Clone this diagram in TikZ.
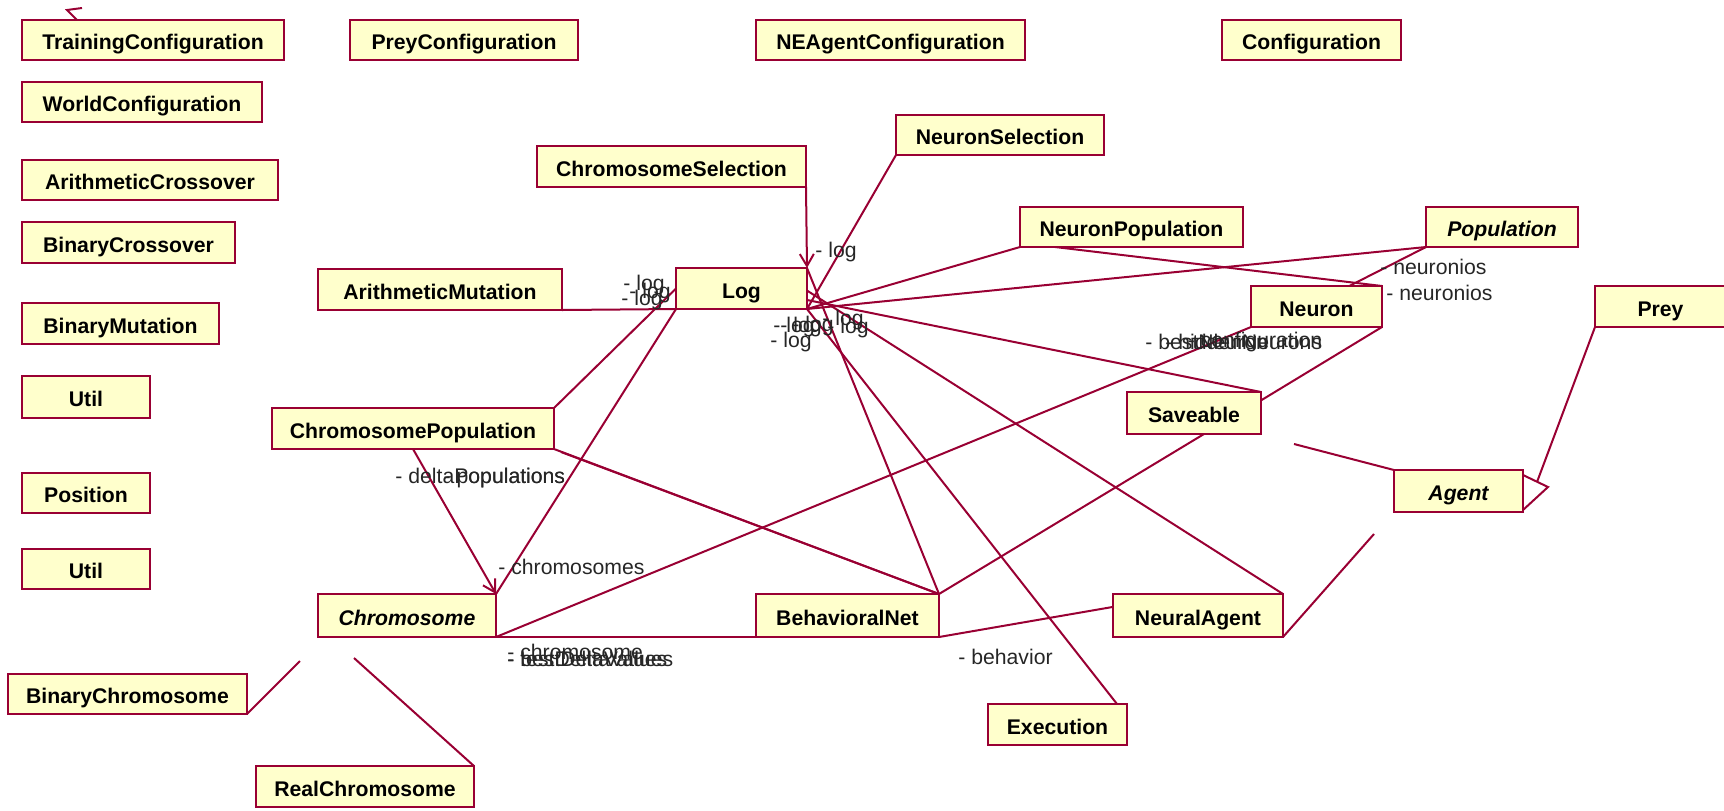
\documentclass[tikz,border=0pt]{standalone}
\usepackage{fontspec}
\setmainfont{Liberation Sans}
\usetikzlibrary{arrows.meta,calc}
\definecolor{umlred}{RGB}{153,0,51}
\definecolor{umlfill}{RGB}{255,255,204}
\newcommand\umlbox[7]{%
  \node[#1, minimum width={(#5-#3)*0.5pt}, minimum height={(#6-#4)*0.5pt}]
    (#2) at ({(#3+#5)/2},{(#4+#6)/2}) {#7};}
\begin{document}
\begin{tikzpicture}[x=0.5pt,y=-0.5pt,
  cls/.style={draw=umlred, fill=umlfill, line width=1pt, inner sep=0pt, outer sep=0pt,
    text height=9.5pt, text depth=0pt,
    font=\fontsize{10.6}{12}\selectfont\bfseries},
  abs/.style={cls, font=\fontsize{10.6}{12}\selectfont\bfseries\itshape},
  conn/.style={draw=umlred, line width=1pt},
  nav/.style={conn, -{Straight Barb[length=6pt,width=7pt]}},
  lbl/.style={anchor=west, inner sep=0pt, font=\fontsize{10.6}{12}\selectfont, text=black!85}]
\useasboundingbox (0,0) rectangle (1724,810);

% classes
\umlbox{cls}{tc}{22}{20}{284}{60}{TrainingConfiguration}
\umlbox{cls}{pc}{350}{20}{578}{60}{PreyConfiguration}
\umlbox{cls}{nc}{756}{20}{1025}{60}{NEAgentConfiguration}
\umlbox{cls}{cfg}{1222}{20}{1401}{60}{Configuration}
\umlbox{cls}{wc}{22}{82}{262}{122}{WorldConfiguration}
\umlbox{cls}{ac}{22}{160}{278}{200}{ArithmeticCrossover}
\umlbox{cls}{bcr}{22}{222}{235}{263}{BinaryCrossover}
\umlbox{cls}{bm}{22}{303}{219}{344}{BinaryMutation}
\umlbox{cls}{u1}{22}{376}{150}{418}{Util}
\umlbox{cls}{pos}{22}{473}{150}{513}{Position}
\umlbox{cls}{u2}{22}{549}{150}{589}{Util}
\umlbox{cls}{bch}{8}{674}{247}{714}{BinaryChromosome}
\umlbox{cls}{rch}{256}{766}{474}{807}{RealChromosome}
\umlbox{abs}{chr}{318}{594}{496}{637}{Chromosome}
\umlbox{cls}{cp}{272}{408}{554}{449}{ChromosomePopulation}
\umlbox{cls}{am}{318}{269}{562}{310}{ArithmeticMutation}
\umlbox{cls}{log}{676}{268}{807}{309}{Log}
\umlbox{cls}{cs}{537}{146}{806}{187}{ChromosomeSelection}
\umlbox{cls}{ns}{896}{115}{1104}{155}{NeuronSelection}
\umlbox{cls}{np}{1020}{207}{1243}{247}{NeuronPopulation}
\umlbox{abs}{pop}{1426}{207}{1578}{247}{Population}
\umlbox{cls}{neu}{1251}{286}{1382}{327}{Neuron}
\umlbox{cls}{prey}{1595}{286}{1726}{327}{Prey}
\umlbox{cls}{sv}{1127}{392}{1261}{434}{Saveable}
\umlbox{abs}{ag}{1394}{470}{1523}{512}{Agent}
\umlbox{cls}{bn}{756}{594}{939}{637}{BehavioralNet}
\umlbox{cls}{na}{1113}{594}{1283}{637}{NeuralAgent}
\umlbox{cls}{ex}{988}{704}{1127}{745}{Execution}

% free ends
\coordinate (tipA) at (82,8);
\coordinate (tipB) at (67,10);
\coordinate (tipC) at (77,20);
\coordinate (gBC) at (300,661);
\coordinate (gRC) at (354,658);
\coordinate (gNA) at (1374,534);
\coordinate (gSV) at (1294,444);
\coordinate (gPR) at (1537,482);
\coordinate (triA) at (1523,475);
\coordinate (triB) at (1548,487);
\coordinate (triC) at (1523,510);

% connectors
\draw[conn] (tipA) -- (tipB) -- (tipC);
\draw[conn] (am.south east) -- (log.south west);
\draw[nav] (cs.south east) -- (log.north east);
\draw[conn] (log.west) -- (cp.north east);
\draw[conn] (log.south west) -- (chr.north east);
\draw[nav] (cp.south) -- (chr.north east);
\draw[conn] (cp.south east) -- (bn.north east);
\draw[conn] ($(cp.south east)+(7,3)$) -- (bn.north east);
\draw[conn] (chr.south east) -- (bn.south west);
\draw[conn] (chr.south east) -- (neu.south west);
\draw[conn] (bn.south east) -- ($(na.north west)!0.3!(na.south west)$);
\draw[conn] (na.south east) -- (gNA);
\draw[conn] (gSV) -- (ag.north west);
\draw[conn] (prey.south west) -- (gPR);
\draw[conn] (triA) -- (triB) -- (triC);
\draw[conn] ($(sv.south)+(10,0)$) -- (bn.north east);
\draw[conn] (neu.south east) -- ($(sv.north east)!0.2!(sv.south east)$);
\draw[conn] ($(log.north east)!0.78!(log.south east)$) -- (sv.north east);
\draw[conn] ($(log.north east)!0.55!(log.south east)$) -- (na.north east);
\draw[conn] (log.south east) -- ($(ex.north east)+(-10,0)$);
\draw[conn] (log.north east) -- (bn.north east);
\draw[conn] (ns.south west) -- (log.south east);
\draw[conn] (np.south west) -- (log.south east);
\draw[conn] (pop.south west) -- (log.south east);
\draw[conn] ($(np.south west)+(35,0)$) -- (neu.north east);
\draw[conn] (pop.south west) -- ($(neu.north west)!0.75!(neu.north east)$);
\draw[conn] (gBC) -- (bch.south east);
\draw[conn] (gRC) -- (rch.north east);

% role labels
\node[lbl] (r1) at (815,252) {- log};
\node[lbl] (r2) at (623,285) {- log};
\node[lbl] (r3) at (629,293) {- log};
\node[lbl] (r4) at (621,300) {- log};
\node[lbl] (r5) at (773,327) {- log};
\node[lbl] (r6) at (780,327) {- log};
\node[lbl] (r7) at (792,326) {- log};
\node[lbl] (r8) at (822,320) {- log};
\node[lbl] (r9) at (827,328) {- log};
\node[lbl] (r10) at (770,342) {- log};
\node[lbl] (rdp) at (395,478) {- deltaPopulations};
\node[lbl, anchor=east] (rpp) at (rdp.east) {- populations};
\node[lbl] (rch1) at (498,567) {- chromosomes};
\node[lbl] (rbd) at (507,659) {- bestDeltaValues};
\node[lbl] (rtd) at (507,659) {- testDeltaValues};
\node[lbl] (rcs) at (507,652) {- chromosome};
\node[lbl] (rbn) at (1145,342) {- bestNeuron};
\node[lbl] (rhn) at (1165,342) {- hiddenNeurons};
\node[lbl, anchor=east] (rcf) at (rhn.east) {- configuration};
\node[lbl] (rn1) at (1380,267) {- neuronios};
\node[lbl] (rn2) at (1386,293) {- neuronios};
\node[lbl] (rbh) at (958,657) {- behavior};
\end{tikzpicture}
\end{document}
